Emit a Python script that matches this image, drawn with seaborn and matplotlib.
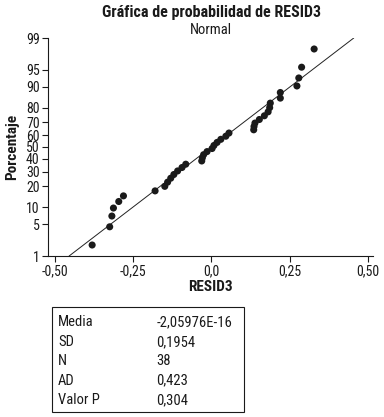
import numpy as np
import pandas as pd
import matplotlib
matplotlib.use("Agg")
import matplotlib.pyplot as plt
import seaborn as sns
from matplotlib import font_manager
from statistics import NormalDist
from matplotlib.patches import Rectangle

# ---- data ----
resid3 = [-0.381, -0.325, -0.318, -0.313, -0.296, -0.281,
          -0.180, -0.149, -0.140, -0.130, -0.120, -0.108, -0.094, -0.082,
          -0.031, -0.029, -0.025, -0.014, 0.002, 0.008, 0.018, 0.030,
          0.046, 0.056, 0.136, 0.135, 0.139, 0.153, 0.169, 0.181,
          0.186, 0.188, 0.220, 0.220, 0.273, 0.279, 0.288, 0.328]
fit_mean = -2.05976e-16
fit_sd = 0.1954
stat_names = ["Media", "SD", "N", "AD", "Valor P"]
stat_values = ["-2,05976E-16", "0,1954", "38", "0,423", "0,304"]
ytick_values = [1, 5, 10, 20, 30, 40, 50, 60, 70, 80, 90, 95, 99]
xtick_values = [-0.5, -0.25, 0.0, 0.25, 0.5]
xtick_labels = ["-0,50", "-0,25", "0,0", "0,25", "0,50"]

# plotting positions (median ranks) for the probability plot
xs = np.sort(np.array(resid3))
n = len(xs)
ranks = np.arange(1, n + 1)
pct = 100 * (ranks - 0.3) / (n + 0.4)
df = pd.DataFrame({"RESID3": xs, "Porcentaje": pct})

nd = NormalDist()
_ppf = np.vectorize(lambda v: nd.inv_cdf(v / 100.0), otypes=[float])
_cdf = np.vectorize(lambda v: 100.0 * nd.cdf(v), otypes=[float])
def fwd(p):
    p = np.clip(np.asarray(p, dtype=float), 1e-6, 100 - 1e-6)
    return _ppf(p)
def inv(z):
    return _cdf(np.asarray(z, dtype=float))

# fitted line from 1% to 99%
line_pct = np.array([ytick_values[0], ytick_values[-1]], dtype=float)
line_x = fit_mean + fit_sd * fwd(line_pct)
line_df = pd.DataFrame({"x": line_x, "p": line_pct})

# ---- style ----
sns.set_theme(style="ticks")
chosen = "DejaVu Sans"
for cand in ["Liberation Sans Narrow", "Roboto Condensed", "Open Sans Condensed",
             "Roboto"]:
    try:
        font_manager.findfont(font_manager.FontProperties(family=cand),
                              fallback_to_default=False)
        chosen = cand
        break
    except Exception:
        pass
narrow = chosen in ("Liberation Sans Narrow", "Roboto Condensed", "Open Sans Condensed")
plt.rcParams["font.family"] = [chosen, "DejaVu Sans"]
plt.rcParams["text.color"] = "#1a1a1a"
plt.rcParams["axes.labelcolor"] = "#1a1a1a"

fs_tick = 10 if narrow else 9.5
fs_title = 11.5 if narrow else 9.5
fs_sub = 10.5 if narrow else 9.5
fs_label = 11 if narrow else 9.5
fs_box = 10.5 if narrow else 9

fig = plt.figure(figsize=(3.84, 4.17), dpi=100)
ax = fig.add_axes([48 / 384, 1 - 256 / 417, (373 - 48) / 384, (256 - 38) / 417])
ax.set_yscale("function", functions=(fwd, inv))

sns.lineplot(data=line_df, x="x", y="p", color="#222222", linewidth=0.7,
             ax=ax, sort=False)
sns.scatterplot(data=df, x="RESID3", y="Porcentaje", color="#1a1a1a", s=26,
                edgecolor="none", linewidth=0, ax=ax, zorder=3)

ax.set_xlim(-0.522, 0.516)
ax.set_ylim(1, 99)
ax.set_yticks(ytick_values)
ax.set_yticklabels([str(v) for v in ytick_values])
ax.yaxis.set_minor_locator(matplotlib.ticker.NullLocator())
ax.set_xticks(xtick_values)
ax.set_xticklabels(xtick_labels)
ax.tick_params(axis="both", labelsize=fs_tick, length=4, width=0.8,
               colors="#1a1a1a", pad=2)
for s in ["top", "right"]:
    ax.spines[s].set_visible(False)
for s in ["left", "bottom"]:
    ax.spines[s].set_linewidth(0.8)
    ax.spines[s].set_color("#1a1a1a")

ax.set_xlabel("RESID3", fontsize=fs_label, fontweight="bold", labelpad=1)
ax.set_ylabel("Porcentaje", fontsize=fs_label, fontweight="bold", labelpad=5)

fig.text(211 / 384, 1 - 12 / 417, "Gráfica de probabilidad de RESID3",
         ha="center", va="center", fontsize=fs_title, fontweight="bold")
fig.text(211 / 384, 1 - 30 / 417, "Normal", ha="center", va="center",
         fontsize=fs_sub)

# stats box
box = Rectangle((51.5 / 384, 1 - 411.5 / 417), (243.5 - 51.5) / 384,
                (411.5 - 307) / 417, transform=fig.transFigure,
                fill=False, edgecolor="#1a1a1a", linewidth=0.8)
fig.patches.append(box)
for i, (nm, val) in enumerate(zip(stat_names, stat_values)):
    yy = 1 - (322.5 + i * 19.4) / 417
    fig.text(58 / 384, yy, nm, ha="left", va="center", fontsize=fs_box)
    fig.text(156.5 / 384, yy, val, ha="left", va="center", fontsize=fs_box)

fig.savefig("out.png", dpi=100)
